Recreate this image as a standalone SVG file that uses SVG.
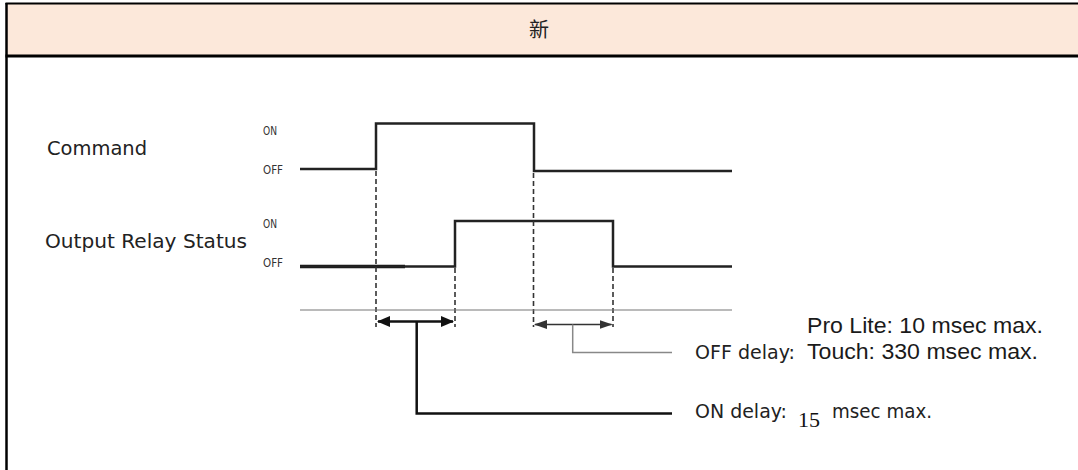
<svg xmlns="http://www.w3.org/2000/svg" width="1078" height="470" viewBox="0 0 1078 470">
<defs>
<style>
.frame{stroke:#000;fill:none}
.wave{fill:none;stroke:#222;stroke-width:2.5;stroke-linejoin:miter}
.dash{stroke:#333;stroke-width:1.6;stroke-dasharray:5 3;fill:none}
.lbl{font-family:"DejaVu Sans","Liberation Sans",sans-serif;fill:#222}
.lvl{font-family:"DejaVu Sans","Liberation Sans",sans-serif;font-size:12px;fill:#333}
.arial{font-family:"Liberation Sans",Arial,sans-serif;fill:#1a1a1a;font-size:22px}
</style>
<marker id="ahOn" viewBox="0 0 13 11" refX="12" refY="5.5" markerWidth="13" markerHeight="11" markerUnits="userSpaceOnUse" orient="auto-start-reverse"><path d="M0,0 L13,5.5 L0,11 z" fill="#111"/></marker>
<marker id="ahOff" viewBox="0 0 13 9" refX="12" refY="4.5" markerWidth="13" markerHeight="9" markerUnits="userSpaceOnUse" orient="auto-start-reverse"><path d="M0,0 L13,4.5 L0,9 z" fill="#333"/></marker>
</defs>

<g id="header">
<rect x="6.5" y="3.5" width="1072" height="52.5" fill="#FCE8DA"/>
<path class="frame" d="M5.5,3.5 H1078" stroke-width="2"/>
<path class="frame" d="M6.5,3 V470" stroke-width="2.5"/>
<path class="frame" d="M5.5,56 H1078" stroke-width="3"/>
<text x="539" y="37" text-anchor="middle" font-family="'Noto Sans CJK SC','Noto Sans CJK JP',sans-serif" font-size="20" fill="#222">新</text>
</g>

<g id="command">
<text class="lbl" x="47" y="155" font-size="19" textLength="100" lengthAdjust="spacingAndGlyphs">Command</text>
<text class="lvl" x="263" y="135" textLength="14" lengthAdjust="spacingAndGlyphs">ON</text>
<text class="lvl" x="263" y="173.5" textLength="20" lengthAdjust="spacingAndGlyphs">OFF</text>
<path class="wave" d="M300,169 H376 V123.5 H534 V171 H732"/>
</g>

<g id="relay">
<text class="lbl" x="45" y="248" font-size="19" textLength="202" lengthAdjust="spacingAndGlyphs">Output Relay Status</text>
<text class="lvl" x="263" y="228" textLength="14" lengthAdjust="spacingAndGlyphs">ON</text>
<text class="lvl" x="263" y="267" textLength="20" lengthAdjust="spacingAndGlyphs">OFF</text>
<path d="M300,266.5 H405" stroke="#111" stroke-width="3.5" fill="none"/>
<path class="wave" d="M300,266.5 H455 V221 H613 V266.5 H732"/>
</g>

<g id="guides">
<path class="dash" d="M376,171 V327"/>
<path class="dash" d="M455,268 V327"/>
<path class="dash" d="M533.5,173 V327"/>
<path class="dash" d="M613,268 V327"/>
<path d="M300,310 H732" stroke="#777" stroke-width="1.2" fill="none"/>
</g>

<g id="connectors">
<path d="M378,321.5 H453" stroke="#111" stroke-width="2.5" fill="none" marker-start="url(#ahOn)" marker-end="url(#ahOn)"/>
<path d="M416.7,321.5 V413.5 H672" stroke="#111" stroke-width="2.5" fill="none"/>
<path d="M535,324.5 H611.5" stroke="#333" stroke-width="1.5" fill="none" marker-start="url(#ahOff)" marker-end="url(#ahOff)"/>
<path d="M572.7,324.5 V352.5 H672" stroke="#888" stroke-width="1.5" fill="none"/>
</g>

<g id="off-delay-label">
<text class="arial" x="807" y="333" textLength="236" lengthAdjust="spacingAndGlyphs">Pro Lite: 10 msec max.</text>
<text class="lbl" x="695" y="359" font-size="20" textLength="100" lengthAdjust="spacingAndGlyphs">OFF delay:</text>
<text class="arial" x="807" y="359" textLength="231" lengthAdjust="spacingAndGlyphs">Touch: 330 msec max.</text>
</g>

<g id="on-delay-label">
<text class="lbl" x="695" y="418" font-size="20" textLength="92" lengthAdjust="spacingAndGlyphs">ON delay:</text>
<text x="798" y="427" font-family="'Liberation Serif','Times New Roman',serif" font-size="22" fill="#111">15</text>
<text class="lbl" x="832" y="418" font-size="20" textLength="100" lengthAdjust="spacingAndGlyphs">msec max.</text>
</g>
</svg>
